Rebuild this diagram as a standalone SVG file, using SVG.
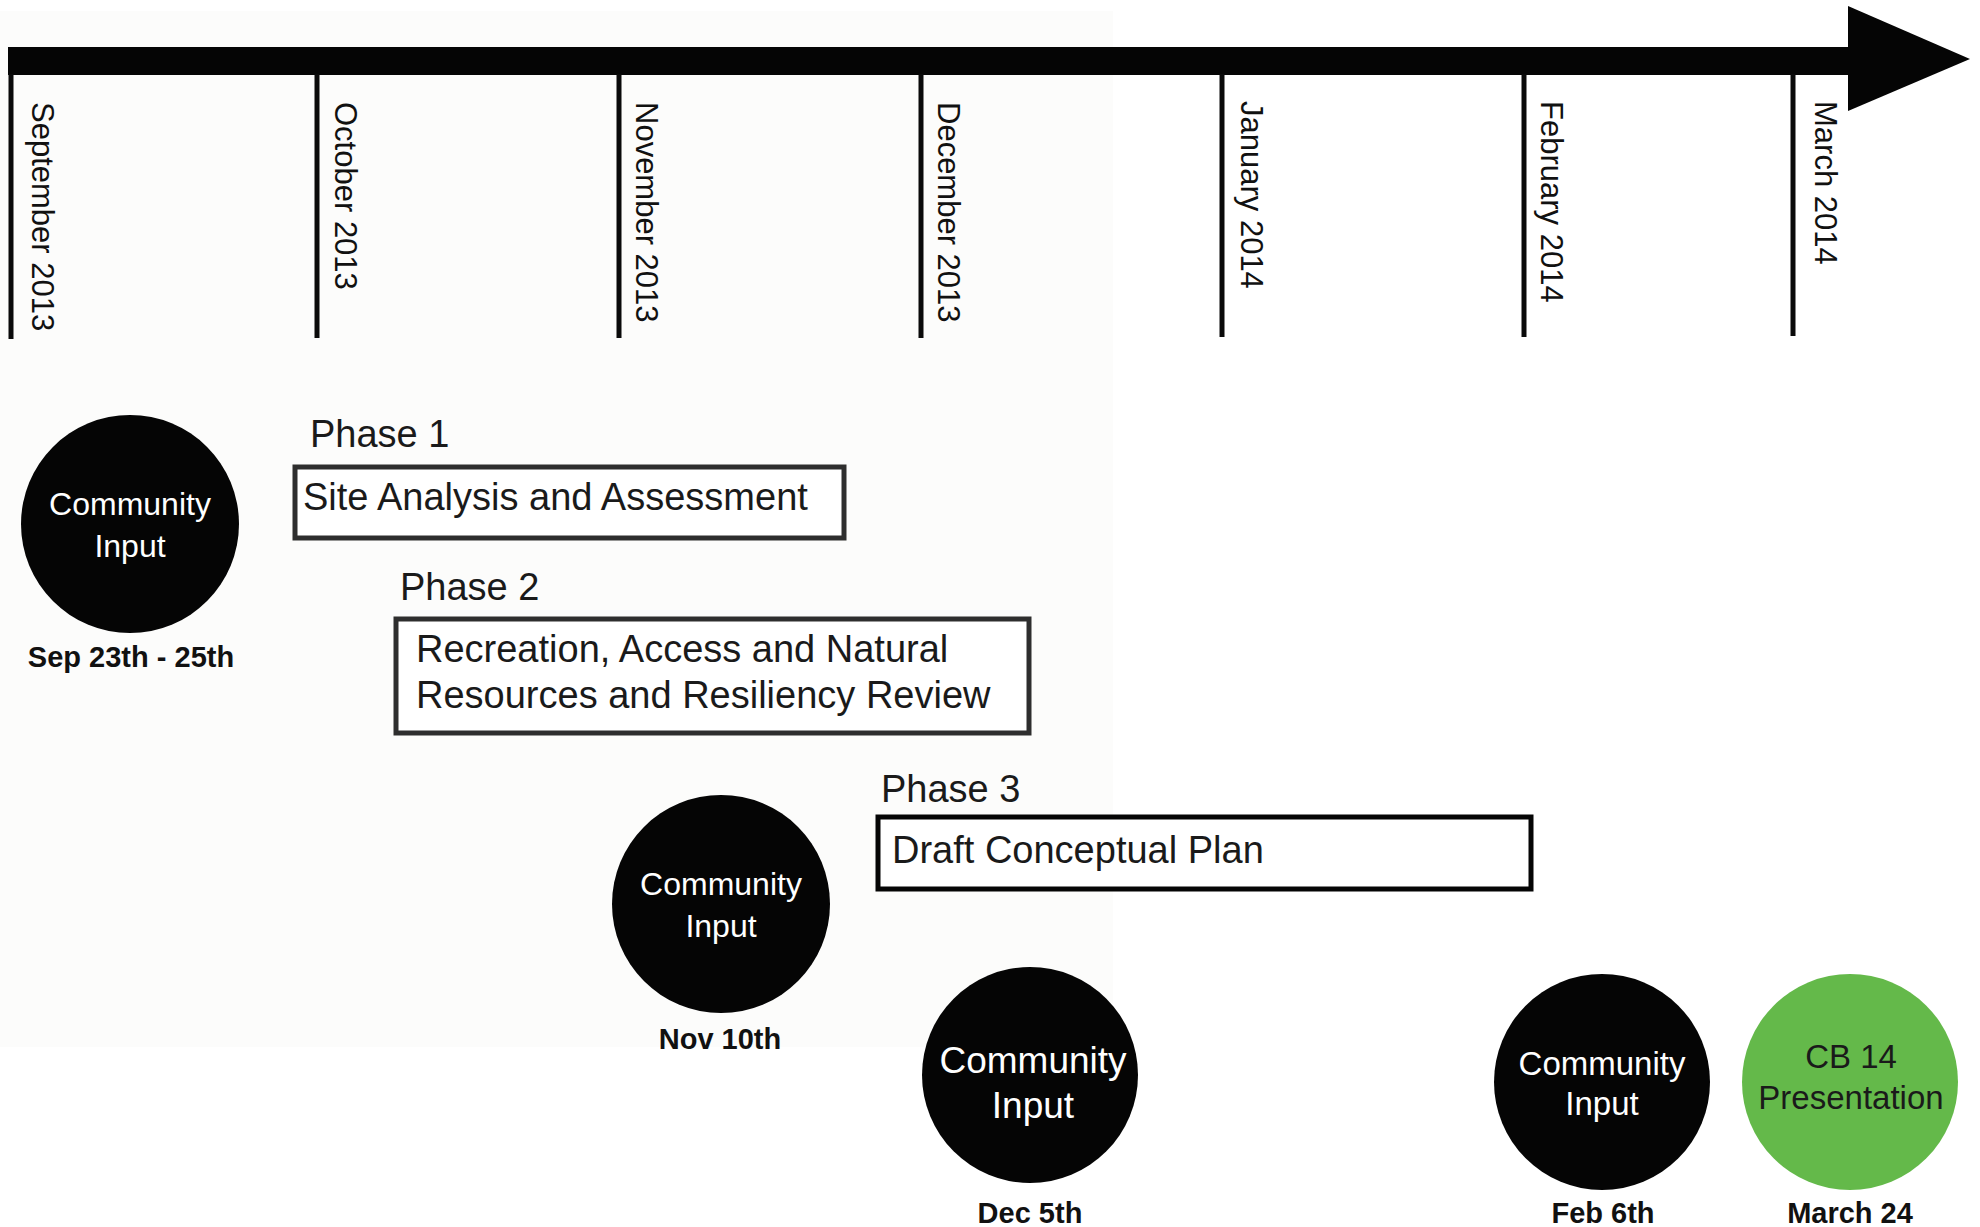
<svg xmlns="http://www.w3.org/2000/svg" width="1980" height="1227" viewBox="0 0 1980 1227">
  <style>
    text { font-family: "Liberation Sans", Arial, sans-serif; }
    .month { font-size: 31px; fill: #111; }
    .tick { stroke: #0a0a0a; stroke-width: 5; }
    .phase { font-size: 38px; fill: #1a1a1a; }
    .box { fill: #ffffff; stroke: #2e2e2e; stroke-width: 5; }
    .boxtext { font-size: 38px; fill: #1a1a1a; }
    .dot { fill: #050505; }
    .dottext { fill: #ffffff; text-anchor: middle; }
    .date { font-size: 29px; font-weight: bold; fill: #111; text-anchor: middle; }
  </style>
  <rect x="0" y="0" width="1980" height="1227" fill="#ffffff"/>
  <rect x="0" y="11" width="1113" height="1036" fill="#fcfcfb"/>

  <g id="connectors">
    <rect x="8" y="47" width="1845" height="28" fill="#050505"/>
    <polygon points="1848,6 1970,59 1848,111" fill="#050505"/>
    <line class="tick" x1="11" y1="74" x2="11" y2="339"/>
    <line class="tick" x1="317" y1="74" x2="317" y2="338"/>
    <line class="tick" x1="619" y1="74" x2="619" y2="338"/>
    <line class="tick" x1="921" y1="74" x2="921" y2="338"/>
    <line class="tick" x1="1222" y1="74" x2="1222" y2="337"/>
    <line class="tick" x1="1524" y1="74" x2="1524" y2="337"/>
    <line class="tick" x1="1793" y1="74" x2="1793" y2="336"/>
  </g>

  <g id="months">
    <text class="month" transform="translate(32,102) rotate(90)">September 2013</text>
    <text class="month" transform="translate(335,102) rotate(90)">October 2013</text>
    <text class="month" transform="translate(636,102) rotate(90)">November 2013</text>
    <text class="month" transform="translate(938,102) rotate(90)">December 2013</text>
    <text class="month" transform="translate(1241,101) rotate(90)">January 2014</text>
    <text class="month" transform="translate(1541,101) rotate(90)">February 2014</text>
    <text class="month" transform="translate(1815,101) rotate(90)">March 2014</text>
  </g>

  <g id="input-sep">
    <circle class="dot" cx="130" cy="524" r="109"/>
    <text class="dottext" x="130" y="515" font-size="32" fill="#e8e8e8">Community</text>
    <text class="dottext" x="130" y="557" font-size="32" fill="#e8e8e8">Input</text>
    <text class="date" x="131" y="667">Sep 23th - 25th</text>
  </g>

  <g id="phase1">
    <text class="phase" x="310" y="447">Phase 1</text>
    <rect class="box" x="295" y="467" width="549" height="71"/>
    <text class="boxtext" x="303" y="510">Site Analysis and Assessment</text>
  </g>

  <g id="phase2">
    <text class="phase" x="400" y="600">Phase 2</text>
    <rect class="box" x="396" y="619" width="633" height="114"/>
    <text class="boxtext" x="416" y="662">Recreation, Access and Natural</text>
    <text class="boxtext" x="416" y="708">Resources and Resiliency Review</text>
  </g>

  <g id="phase3">
    <text class="phase" x="881" y="802">Phase 3</text>
    <rect x="878" y="817" width="653" height="72" fill="#ffffff" stroke="#050505" stroke-width="5"/>
    <text class="boxtext" x="892" y="863">Draft Conceptual Plan</text>
  </g>

  <g id="input-nov">
    <circle class="dot" cx="721" cy="904" r="109"/>
    <text class="dottext" x="721" y="895" font-size="32" fill="#e8e8e8">Community</text>
    <text class="dottext" x="721" y="937" font-size="32" fill="#e8e8e8">Input</text>
    <text class="date" x="720" y="1049">Nov 10th</text>
  </g>

  <g id="input-dec">
    <circle class="dot" cx="1030" cy="1075" r="108"/>
    <text class="dottext" x="1033" y="1073" font-size="37">Community</text>
    <text class="dottext" x="1033" y="1118" font-size="37">Input</text>
    <text class="date" x="1030" y="1223">Dec 5th</text>
  </g>

  <g id="input-feb">
    <circle class="dot" cx="1602" cy="1082" r="108"/>
    <text class="dottext" x="1602" y="1075" font-size="33">Community</text>
    <text class="dottext" x="1602" y="1115" font-size="33">Input</text>
    <text class="date" x="1603" y="1223">Feb 6th</text>
  </g>

  <g id="cb14">
    <circle cx="1850" cy="1082" r="108" fill="#64b94a"/>
    <text x="1851" y="1068" font-size="33" fill="#1a1a1a" text-anchor="middle">CB 14</text>
    <text x="1851" y="1109" font-size="33" fill="#1a1a1a" text-anchor="middle">Presentation</text>
    <text class="date" x="1850" y="1223">March 24</text>
  </g>
</svg>
